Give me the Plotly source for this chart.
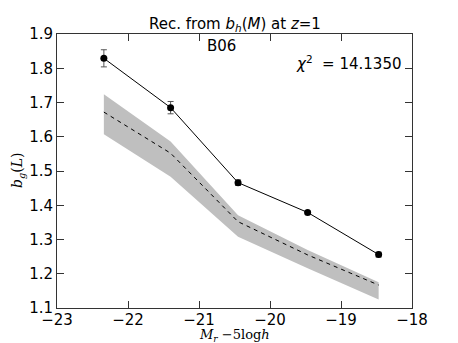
import plotly.graph_objects as go

# magnitude bins
mag = [-22.34, -21.40, -20.45, -19.47, -18.47]

# measured bias with errors
bias = [1.829, 1.685, 1.466, 1.379, 1.256]
bias_err = [0.025, 0.018, 0.008, 0.004, 0.007]

# reconstructed model (dashed) and its band
model = [1.672, 1.552, 1.352, 1.255, 1.167]
band_hi = [1.724, 1.586, 1.371, 1.269, 1.175]
band_lo = [1.607, 1.483, 1.308, 1.216, 1.125]

x_ticks = [-23, -22, -21, -20, -19, -18]
x_labels = ["\u221223", "\u221222", "\u221221", "\u221220", "\u221219", "\u221218"]
y_ticks = [1.1, 1.2, 1.3, 1.4, 1.5, 1.6, 1.7, 1.8, 1.9]

FONT = "DejaVu Sans"

fig = go.Figure()

# shaded band
fig.add_trace(go.Scatter(
    x=mag + mag[::-1], y=band_hi + band_lo[::-1],
    fill="toself", fillcolor="#bfbfbf", line=dict(width=0),
    mode="lines", hoverinfo="skip", showlegend=False,
))

# dashed model line
fig.add_trace(go.Scatter(
    x=mag, y=model, mode="lines",
    line=dict(color="black", width=1, dash="4px,4px"),
    showlegend=False,
))

# measurements
fig.add_trace(go.Scatter(
    x=mag, y=bias, mode="lines+markers",
    line=dict(color="black", width=1),
    marker=dict(color="black", size=7),
    error_y=dict(type="data", array=bias_err, color="#555555", thickness=1, width=3),
    showlegend=False,
))

axis_common = dict(
    showline=True, linecolor="#333333", linewidth=1, mirror="ticks",
    ticks="inside", ticklen=7, tickcolor="#333333", tickwidth=1,
    showgrid=False, zeroline=False, automargin=False,
    tickfont=dict(family=FONT, size=15, color="black"),
)

fig.update_xaxes(
    range=[-23, -18], tickvals=x_ticks, ticktext=x_labels,
    ticklabelstandoff=-2,
    **axis_common,
)
fig.update_yaxes(
    range=[1.1, 1.9], tickvals=y_ticks, tickformat=".1f",
    ticklabelstandoff=0,
    **axis_common,
)

# axis titles
fig.add_annotation(
    text="<i>M<sub>r</sub></i> \u22125log<i>h</i>",
    xref="paper", yref="paper", x=0.5, y=0, yshift=-17,
    xanchor="center", yanchor="top", showarrow=False,
    font=dict(family="DejaVu Serif", size=13, color="black"),
)
fig.add_annotation(
    text="<i>b<sub>g</sub></i>(<i>L</i>)",
    xref="paper", yref="paper", x=0, y=0.5, xshift=-39, textangle=-90,
    xanchor="center", yanchor="middle", showarrow=False,
    font=dict(family="DejaVu Serif", size=14, color="black"),
)

fig.add_annotation(
    text="Rec. from <i>b<sub>h</sub></i>(<i>M</i>) at <i>z</i>=1",
    xref="paper", yref="paper", x=0.5, y=1.0, xanchor="center", yanchor="bottom",
    showarrow=False, font=dict(family=FONT, size=15, color="black"), yshift=-2,
)
fig.add_annotation(
    text="B06", xref="paper", yref="paper", x=0.463, y=0.995,
    xanchor="center", yanchor="top", showarrow=False,
    font=dict(family=FONT, size=15, color="black"),
)
fig.add_annotation(
    text="<i>\u03c7</i><sup>2</sup>  = 14.1350", xref="paper", yref="paper",
    x=0.975, y=0.895, xanchor="right", yanchor="middle", showarrow=False,
    font=dict(family=FONT, size=15, color="black"),
)

# page body adds an 8px offset, so the figure is shrunk to fit the window
fig.update_layout(
    width=450, height=335,
    margin=dict(l=49, r=46, t=26, b=35),
    paper_bgcolor="white", plot_bgcolor="white",
    font=dict(family=FONT, color="black"),
)

fig.write_html("out.html")
